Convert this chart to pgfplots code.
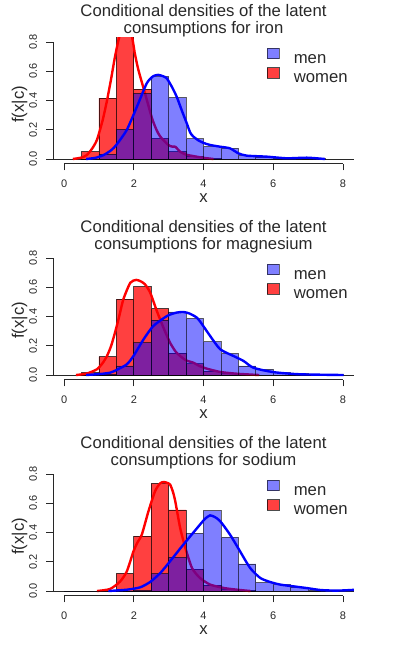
\documentclass[border=0pt]{standalone}
\usepackage{fontspec}
\setmainfont{Liberation Sans}
\usepackage{pgfplots}
\pgfplotsset{compat=1.18}

\definecolor{axisgray}{RGB}{40,40,40}

\pgfplotsset{
  dens panel/.style={
    scale only axis, width=301pt, height=126.4pt,
    xmin=-0.32, xmax=8.32, ymin=-0.032, ymax=0.832,
    axis x line*=bottom, axis y line*=left,
    axis line style={draw=none},
    clip mode=individual,
    xtick={0,2,4,6,8}, xticklabels={0,2,4,6,8},
    ytick={0,0.2,0.4,0.6,0.8}, yticklabels={0.0,0.2,0.4,0.6,0.8},
    tick align=outside, major tick length=6.7pt,
    tick style={axisgray, line width=0.7pt},
    tick label style={font=\fontsize{11}{12}\selectfont, text=axisgray},
    xticklabel style={anchor=north, inner sep=0pt},
    yticklabel style={rotate=90, anchor=south, inner sep=0pt},
    xticklabel shift=9.4pt, yticklabel shift=9pt,
    xlabel={x}, ylabel={f(x|c)},
    label style={font=\fontsize{16.7}{18}\selectfont, text=axisgray},
    x label style={at={(axis description cs:0.5,-0.31)}, anchor=base},
    y label style={at={(axis description cs:-0.111,0.47)}, anchor=center},
    title style={align=center, font=\fontsize{16.7}{17.3}\selectfont,
      text=axisgray, at={(axis description cs:0.5,1.169)}, anchor=base,
      yshift=-24pt},
    legend cell align=left,
    legend style={at={(axis description cs:0.709,0.918)}, anchor=north west,
      draw=none, fill=none, inner sep=0pt, row sep=0pt,
      font=\fontsize{16.7}{20}\selectfont, text=axisgray,
      nodes={inner sep=0pt, text height=12pt, text depth=4pt}},
  },
  women bars/.style={ybar interval, fill=red, fill opacity=0.75,
    draw=black, draw opacity=0.7, line width=0.7pt, forget plot},
  men bars/.style={ybar interval, fill=blue, fill opacity=0.5,
    draw=black, draw opacity=0.6, line width=0.7pt, forget plot},
  women line/.style={red, line width=2.4pt, smooth, tension=0.4, no marks, forget plot},
  men line/.style={blue, line width=2.4pt, smooth, tension=0.4, no marks, forget plot},
  zero line/.style={axisgray, line width=0.8pt, no marks, forget plot},
}

\newcommand{\rlegend}{%
  \addlegendimage{legend image code/.code={\filldraw[fill=blue, fill opacity=0.5, draw=black, draw opacity=0.6, line width=0.7pt] (0pt,0.5pt) rectangle (12pt,11pt);}}
  \addlegendentry{\hspace{14.5pt}men}
  \addlegendimage{legend image code/.code={\filldraw[fill=red, fill opacity=0.75, draw=black, draw opacity=0.7, line width=0.7pt] (0pt,0.5pt) rectangle (12pt,11pt);}}
  \addlegendentry{\hspace{14.5pt}women}
}
\newcommand{\raxes}{%
  \draw[axisgray, line width=0.7pt] (axis cs:0,-0.032) -- (axis cs:8,-0.032);
  \draw[axisgray, line width=0.7pt] (axis cs:-0.32,0) -- (axis cs:-0.32,0.8);
}

\begin{document}
\begin{tikzpicture}
\path[use as bounding box] (0,0) rectangle (393pt,648pt);

% ---------------- iron ----------------
\begin{axis}[dens panel, at={(53pt,484.3pt)}, anchor=south west,
  title={Conditional densities of the latent\\consumptions for iron}]
  \addplot[zero line] coordinates {(-0.32,0)(8.32,0)};
  \addplot[women bars] coordinates {
    (0.5,0.05)(1.0,0.417)(1.5,0.86)(2.0,0.477)(2.5,0.141)(3.0,0.05)
    (3.5,0.02)(4.0,0.005)(4.5,0)};
  \addplot[women line] coordinates {
    (0.25,0)(0.5,0.01)(0.65,0.027)(0.8,0.07)(0.94,0.13)(1.1,0.26)(1.23,0.4)
    (1.35,0.55)(1.46,0.7)(1.59,0.84)(1.75,0.92)(1.94,0.84)(2.03,0.72)
    (2.13,0.61)(2.32,0.45)(2.52,0.28)(2.65,0.2)(2.76,0.153)(2.99,0.096)
    (3.1,0.085)(3.19,0.084)(3.33,0.05)(3.5,0.03)(3.71,0.02)(4.0,0.008)(4.29,0)};
  \addplot[men bars] coordinates {
    (1.0,0.034)(1.5,0.203)(2.0,0.449)(2.5,0.563)(3.0,0.42)(3.5,0.138)
    (4.0,0.084)(4.5,0.073)(5.0,0.024)(5.5,0.014)(6.0,0.007)(6.5,0.004)
    (7.0,0.004)(7.5,0)};
  \addplot[men line] coordinates {
    (0.63,0)(0.9,0.008)(1.13,0.027)(1.35,0.06)(1.51,0.1)(1.8,0.2)(2.09,0.358)
    (2.37,0.517)(2.55,0.565)(2.7,0.575)(2.85,0.565)(2.95,0.55)(3.1,0.49)
    (3.23,0.426)(3.38,0.33)(3.52,0.244)(3.62,0.18)(3.71,0.153)(3.85,0.128)
    (4.0,0.11)(4.19,0.096)(4.48,0.084)(4.76,0.073)(5.0,0.039)(5.24,0.023)
    (5.82,0.016)(6.39,0.005)(6.97,0.009)(7.49,0)};
  \raxes
  \rlegend
\end{axis}

% ---------------- magnesium ----------------
\begin{axis}[dens panel, at={(53pt,268.3pt)}, anchor=south west,
  title={Conditional densities of the latent\\consumptions for magnesium}]
  \addplot[zero line] coordinates {(-0.32,0)(8.32,0)};
  \addplot[women bars] coordinates {
    (0.5,0.016)(1.0,0.125)(1.5,0.518)(2.0,0.604)(2.5,0.453)(3.0,0.15)
    (3.5,0.077)(4.0,0.027)(4.5,0.01)(5.0,0.004)(5.5,0)};
  \addplot[women line] coordinates {
    (0.34,0)(0.65,0.01)(0.94,0.039)(1.1,0.08)(1.23,0.13)(1.35,0.2)(1.46,0.29)
    (1.58,0.4)(1.7,0.518)(1.9,0.631)(2.07,0.65)(2.2,0.64)(2.32,0.62)
    (2.47,0.563)(2.66,0.438)(2.85,0.324)(3.04,0.221)(3.2,0.16)(3.33,0.13)
    (3.5,0.1)(3.71,0.084)(3.9,0.06)(4.1,0.043)(4.5,0.02)(5.0,0.008)(5.6,0)};
  \addplot[men bars] coordinates {
    (1.0,0.006)(1.5,0.062)(2.0,0.221)(2.5,0.376)(3.0,0.431)(3.5,0.385)
    (4.0,0.227)(4.5,0.146)(5.0,0.062)(5.5,0.039)(6.0,0.016)(6.5,0.008)
    (7.0,0.004)(7.5,0.002)(8.0,0)};
  \addplot[men line] coordinates {
    (0.63,0)(1.03,0.007)(1.32,0.016)(1.51,0.035)(1.8,0.073)(1.99,0.13)
    (2.28,0.244)(2.56,0.335)(2.95,0.403)(3.2,0.425)(3.42,0.431)(3.6,0.42)
    (3.81,0.392)(3.95,0.35)(4.19,0.267)(4.48,0.176)(4.86,0.13)(5.15,0.096)
    (5.43,0.05)(6.0,0.02)(6.77,0.005)(8.02,0)};
  \raxes
  \rlegend
\end{axis}

% ---------------- sodium ----------------
\begin{axis}[dens panel, at={(53pt,52.3pt)}, anchor=south west,
  title={Conditional densities of the latent\\consumptions for sodium}]
  \addplot[zero line] coordinates {(-0.32,0)(8.32,0)};
  \addplot[women bars] coordinates {
    (1.5,0.121)(2.0,0.376)(2.5,0.736)(3.0,0.554)(3.5,0.15)(4.0,0.04)
    (4.5,0.012)(5.0,0.005)(5.5,0)};
  \addplot[women line] coordinates {
    (0.94,0)(1.32,0.014)(1.61,0.066)(1.8,0.135)(1.99,0.271)(2.1,0.33)
    (2.23,0.386)(2.42,0.545)(2.61,0.682)(2.75,0.735)(2.85,0.745)(2.95,0.74)
    (3.04,0.728)(3.12,0.68)(3.19,0.613)(3.33,0.431)(3.48,0.294)(3.67,0.157)
    (3.9,0.089)(4.19,0.044)(4.6,0.02)(5.0,0.008)(5.35,0)};
  \addplot[men bars] coordinates {
    (0.0,0)(0.5,0)(1.0,0)(1.5,0)(2.0,0.004)(2.5,0.119)(3.0,0.23)(3.5,0.394)
    (4.0,0.55)(4.5,0.367)(5.0,0.185)(5.5,0.057)(6.0,0.044)(6.5,0.027)
    (7.0,0.005)(7.5,0)};
  \addplot[men line] coordinates {
    (1.27,0)(1.8,0.009)(2.18,0.025)(2.47,0.062)(2.76,0.123)(3.04,0.203)
    (3.33,0.29)(3.62,0.374)(3.9,0.454)(4.05,0.495)(4.19,0.517)(4.33,0.505)
    (4.48,0.477)(4.76,0.386)(5.05,0.271)(5.34,0.157)(5.63,0.089)(5.91,0.062)
    (6.2,0.044)(6.58,0.032)(6.97,0.02)(7.35,0.007)(7.73,0.003)(8.0,0.004)
    (8.32,0.008)};
  \raxes
  \rlegend
\end{axis}
\end{tikzpicture}
\end{document}
